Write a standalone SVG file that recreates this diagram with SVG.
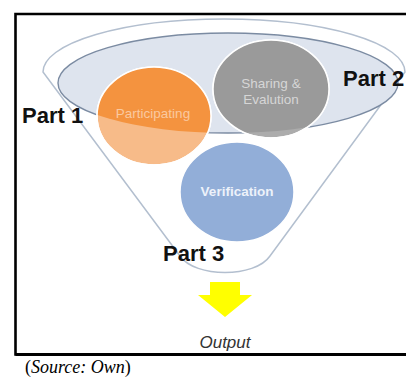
<svg xmlns="http://www.w3.org/2000/svg" width="406" height="381" viewBox="0 0 406 381">
<style>
.part{font-family:"Liberation Sans",Arial,sans-serif;font-weight:bold;font-size:22px;fill:#111}
.in{font-family:"Liberation Sans",Arial,sans-serif;font-size:13.5px;text-anchor:middle}
.frame{fill:none;stroke:#000;stroke-width:2.6}
</style>
<defs>
<clipPath id="inner"><ellipse cx="228" cy="83" rx="170" ry="50"/></clipPath>
</defs>
<rect width="406" height="381" fill="#fff"/>
<path class="frame" d="M407,14 H15.5 V354.5 H407"/>
<line x1="15.5" y1="354.5" x2="407" y2="354.5" stroke="#000" stroke-width="3.2"/>
<g id="funnel">
<path d="M43,72 A181,53 0 0 1 405,72 L270,256 C255,278 195,278 180,256 Z" fill="#fff" stroke="#b3bfcf" stroke-width="1.5"/>
<ellipse cx="228" cy="83" rx="170" ry="50" fill="#dee4ee" stroke="#7b8ba2" stroke-width="1.4"/>
</g>
<g id="participating">
<ellipse cx="154" cy="116" rx="57" ry="49" fill="#f7bb89" stroke="#fff" stroke-width="1.5"/>
<ellipse cx="154" cy="116" rx="57" ry="49" fill="#f4933f" clip-path="url(#inner)"/>
<ellipse cx="154" cy="116" rx="57" ry="49" fill="none" stroke="#fff" stroke-width="1.5"/>
<text class="in" x="153" y="118" fill="#fac9a0">Participating</text>
</g>
<g id="sharing">
<ellipse cx="271" cy="89" rx="58" ry="49" fill="#acacac" stroke="#fff" stroke-width="1.5"/>
<ellipse cx="271" cy="89" rx="58" ry="49" fill="#9a9a9a" clip-path="url(#inner)"/>
<ellipse cx="271" cy="89" rx="58" ry="49" fill="none" stroke="#fff" stroke-width="1.5"/>
<text class="in" x="271" y="88" fill="#d6d6d6">Sharing &amp;</text>
<text class="in" x="271" y="104" fill="#d6d6d6">Evalution</text>
</g>
<g id="verification">
<ellipse cx="237" cy="192" rx="57" ry="50" fill="#92aed8" stroke="#fff" stroke-width="1.5"/>
<text class="in" x="237" y="196" fill="#edf2fa" font-weight="bold">Verification</text>
</g>
<g id="part1"><text class="part" x="22" y="123">Part 1</text></g>
<g id="part2"><text class="part" x="343" y="86">Part 2</text></g>
<g id="part3"><text class="part" x="163" y="261">Part 3</text></g>
<g id="connectors">
<path d="M210,282 H240 V295 H252 L225,317 L198,295 H210 Z" fill="#ffff00"/>
</g>
<g id="output"><text x="225" y="348" font-family="'Liberation Sans',Arial,sans-serif" font-style="italic" font-size="17" fill="#333" text-anchor="middle">Output</text></g>
<text x="25" y="373" font-family="'Liberation Serif','Times New Roman',serif" font-size="18" fill="#000">(<tspan font-style="italic">Source: Own</tspan>)</text>
</svg>
